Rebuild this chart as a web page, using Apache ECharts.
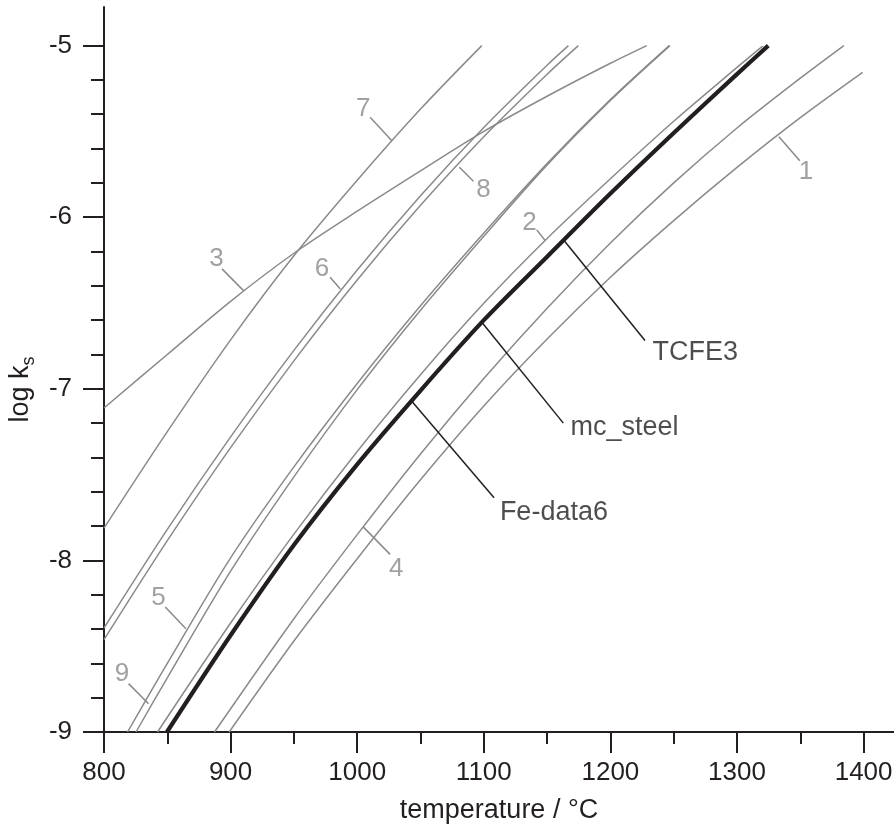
<!DOCTYPE html>
<html><head><meta charset="utf-8">
<script src="https://cdn.jsdelivr.net/npm/echarts@6/dist/echarts.min.js"></script>
<style>html,body{margin:0;padding:0;background:#fff}#c{width:894px;height:825px}</style>
</head><body><div id="c"></div>
<script>
// ---- axis ticks ----
const xMajorTicks = [800, 900, 1000, 1100, 1200, 1300, 1400];
const xMinorTicks = [850, 950, 1050, 1150, 1250, 1350];
const yMajorTicks = [-9, -8, -7, -6, -5];
const yMinorTicks = [-8.8, -8.6, -8.4, -8.2, -7.8, -7.6, -7.4, -7.2, -6.8, -6.6, -6.4, -6.2, -5.8, -5.6, -5.4, -5.2];

// ---- curves: [temperature °C, log ks] ----
const curve1 = [[898.9, -9], [950, -8.47], [1000, -7.99], [1050, -7.53], [1100, -7.10], [1150, -6.71], [1200, -6.35], [1250, -6.02], [1300, -5.71], [1350, -5.42], [1399.2, -5.156]];
const curve2 = [[842.3, -9], [900, -8.365], [950, -7.847], [1000, -7.365], [1050, -6.918], [1100, -6.502], [1150, -6.124], [1200, -5.776], [1250, -5.441], [1300, -5.127], [1320.7, -5.0]];
const curve3 = [[800, -7.112], [850, -6.80], [900, -6.49], [950, -6.21], [1000, -5.965], [1050, -5.73], [1100, -5.50], [1150, -5.295], [1200, -5.103], [1228.7, -5.0]];
const curve4 = [[887.3, -9], [950, -8.34], [1000, -7.85], [1050, -7.38], [1100, -6.94], [1150, -6.53], [1200, -6.15], [1250, -5.80], [1300, -5.48], [1350, -5.19], [1384.4, -5.0]];
const curve5 = [[825.3, -9], [850, -8.684], [900, -8.063], [950, -7.513], [1000, -7.005], [1050, -6.542], [1100, -6.111], [1150, -5.695], [1200, -5.319], [1247, -5.0]];
const curve6 = [[800, -8.394], [850, -7.819], [900, -7.28], [950, -6.776], [1000, -6.308], [1050, -5.875], [1100, -5.477], [1150, -5.114], [1166.8, -5.0]];
const curve7 = [[800, -7.812], [850, -7.25], [900, -6.715], [950, -6.225], [1000, -5.785], [1050, -5.37], [1098.4, -5.0]];
const curve8 = [[800, -8.462], [850, -7.885], [900, -7.343], [950, -6.837], [1000, -6.366], [1050, -5.931], [1100, -5.531], [1150, -5.167], [1174.7, -5.0]];
const curve9 = [[818.6, -9], [850, -8.60], [900, -7.985], [950, -7.455], [1000, -6.969], [1050, -6.516], [1100, -6.092], [1150, -5.687], [1200, -5.315], [1246.5, -5.0]];
const databaseCurve = [[849.7, -9], [900, -8.436], [950, -7.91], [1000, -7.44], [1050, -7.01], [1100, -6.60], [1150, -6.23], [1200, -5.862], [1250, -5.509], [1300, -5.166], [1324.7, -5.0]];

const grayCurves = [
  ['1', curve1], ['2', curve2], ['3', curve3], ['4', curve4], ['5', curve5],
  ['6', curve6], ['7', curve7], ['8', curve8], ['9', curve9]
];

// ---- annotations (data units): text anchor, leader from curve -> to text ----
const numberLabels = [
  {text: '1', at: [1354.4, -5.735], from: [1333.1, -5.531], to: [1349.6, -5.671]},
  {text: '2', at: [1136.0, -6.030], from: [1148.4, -6.136], to: [1141.8, -6.074]},
  {text: '3', at: [888.8, -6.241], from: [910.2, -6.428], to: [893.2, -6.301]},
  {text: '4', at: [1030.8, -8.047], from: [1004.9, -7.806], to: [1026.0, -7.965]},
  {text: '5', at: [843.1, -8.217], from: [864.7, -8.398], to: [848.4, -8.272]},
  {text: '6', at: [972.1, -6.299], from: [986.6, -6.418], to: [978.6, -6.350]},
  {text: '7', at: [1004.7, -5.368], from: [1027.4, -5.554], to: [1010.2, -5.418]},
  {text: '8', at: [1099.7, -5.841], from: [1080.7, -5.709], to: [1091.8, -5.791]},
  {text: '9', at: [814.2, -8.660], from: [835.2, -8.835], to: [819.4, -8.718]}
];
const dbLabels = [
  {text: 'TCFE3', at: [1232.9, -6.787], from: [1163.4, -6.136], to: [1227.3, -6.718]},
  {text: 'mc_steel', at: [1168.1, -7.228], from: [1098.6, -6.614], to: [1162.8, -7.200]},
  {text: 'Fe-data6', at: [1112.3, -7.719], from: [1042.6, -7.068], to: [1108.1, -7.635]}
];

const DARK = '#231f20';
const GRAY = '#8a8a8a';
const FONT = '"Liberation Sans", Arial, Helvetica, sans-serif';

const chart = echarts.init(document.getElementById('c'), null, {renderer: 'canvas'});

const series = grayCurves.map(([name, data]) => ({
  name: name, type: 'line', data: data, smooth: 0.3, symbol: 'none', showSymbol: false,
  lineStyle: {color: GRAY, width: 1.5}, z: 2, silent: true
}));
series.push({
  name: 'TCFE3 / mc_steel / Fe-data6', type: 'line', data: databaseCurve, smooth: 0.3,
  symbol: 'none', showSymbol: false, lineStyle: {color: DARK, width: 4.2}, z: 4, silent: true
});
series.push({
  type: 'scatter', silent: true, symbolSize: 1, itemStyle: {color: 'transparent'}, z: 5,
  data: numberLabels.map(d => ({value: d.at, name: d.text})),
  label: {show: true, position: 'inside', formatter: '{b}', fontSize: 26, color: GRAY, fontFamily: FONT},
  markLine: {silent: true, symbol: ['none', 'none'], label: {show: false}, animation: false,
    lineStyle: {color: GRAY, width: 1.5, type: 'solid'},
    data: numberLabels.map(d => [{coord: d.from}, {coord: d.to}])}
});
series.push({
  type: 'scatter', silent: true, symbolSize: 1, itemStyle: {color: 'transparent'}, z: 5,
  data: dbLabels.map(d => ({value: d.at, name: d.text})),
  label: {show: true, position: 'right', distance: 0, formatter: '{b}', fontSize: 27, color: DARK, fontFamily: FONT},
  markLine: {silent: true, symbol: ['none', 'none'], label: {show: false}, animation: false,
    lineStyle: {color: DARK, width: 1.5, type: 'solid'},
    data: dbLabels.map(d => [{coord: d.from}, {coord: d.to}])}
});

const axisLineStyle = {color: DARK, width: 2};
const plain = v => String(v);

chart.setOption({
  animation: false,
  backgroundColor: '#ffffff',
  textStyle: {fontFamily: FONT},
  grid: {left: 104, right: 0, top: 7, bottom: 93, containLabel: false, outerBoundsMode: 'none'},
  xAxis: [
    {
      type: 'value', min: 800, max: 1424, position: 'bottom',
      axisLine: {show: true, onZero: false, lineStyle: axisLineStyle},
      axisTick: {show: true, length: 21, lineStyle: axisLineStyle, customValues: xMajorTicks},
      axisLabel: {customValues: xMajorTicks, formatter: plain, fontSize: 26, color: DARK, margin: 28, fontFamily: FONT},
      splitLine: {show: false},
      name: 'temperature / °C', nameLocation: 'middle', nameGap: 65,
      nameTextStyle: {fontSize: 27, color: DARK, fontFamily: FONT}
    },
    {
      type: 'value', min: 800, max: 1424, position: 'bottom',
      axisLine: {show: false, onZero: false},
      axisTick: {show: true, length: 12, lineStyle: axisLineStyle, customValues: xMinorTicks},
      axisLabel: {show: false}, splitLine: {show: false}
    }
  ],
  yAxis: [
    {
      type: 'value', min: -9, max: -4.775, position: 'left',
      axisLine: {show: true, onZero: false, lineStyle: axisLineStyle},
      axisTick: {show: true, length: 21, lineStyle: axisLineStyle, customValues: yMajorTicks},
      axisLabel: {customValues: yMajorTicks, formatter: plain, fontSize: 26, color: DARK, margin: 32, fontFamily: FONT},
      splitLine: {show: false},
      name: '{a|log k}{b|s}', nameLocation: 'middle', nameGap: 62,
      nameTextStyle: {
        color: DARK, fontFamily: FONT, padding: [0, 40, 0, 0],
        rich: {
          a: {fontSize: 27, lineHeight: 34, color: DARK, fontFamily: FONT},
          b: {fontSize: 18, lineHeight: 14, verticalAlign: 'bottom', color: DARK, fontFamily: FONT}
        }
      }
    },
    {
      type: 'value', min: -9, max: -4.775, position: 'left',
      axisLine: {show: false, onZero: false},
      axisTick: {show: true, length: 13, lineStyle: axisLineStyle, customValues: yMinorTicks},
      axisLabel: {show: false}, splitLine: {show: false}
    }
  ],
  series: series
});
</script>
</body></html>
